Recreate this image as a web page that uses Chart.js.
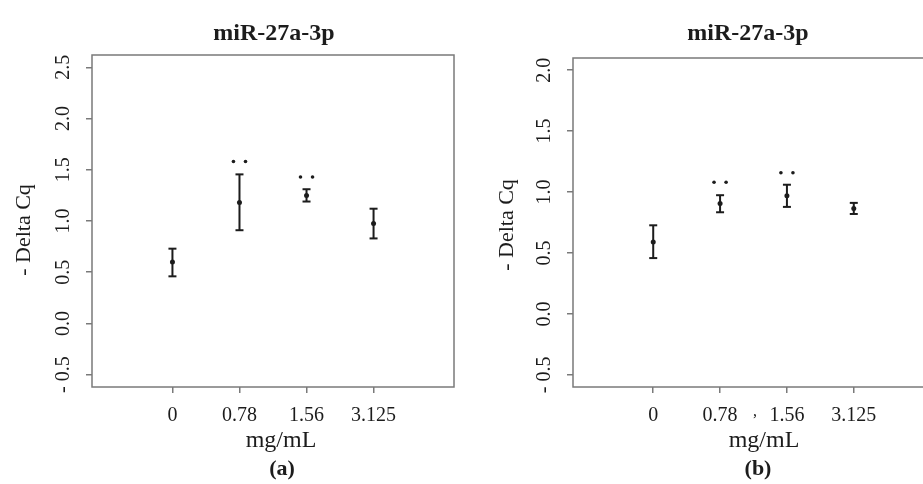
<!DOCTYPE html>
<html>
<head>
<meta charset="utf-8">
<script src="https://cdn.jsdelivr.net/npm/chart.js@4.4.1/dist/chart.umd.min.js"></script>
<style>
  html, body { margin: 0; padding: 0; background: #fff; overflow: hidden; }
  body { width: 923px; height: 484px; position: relative; }
  canvas { position: absolute; top: 0; }
  #panelA { left: 0; }
  #panelB { left: 460px; }
</style>
</head>
<body>
<canvas id="panelA" width="460" height="484"></canvas>
<canvas id="panelB" width="480" height="484"></canvas>
<script>
// datos
const doses = ['0', '0.78', '1.56', '3.125'];
const xPos = [1, 2, 3, 4];

const meanA = [0.60, 1.18, 1.25, 0.975];
const lowA = [0.46, 0.91, 1.19, 0.83];
const highA = [0.73, 1.455, 1.31, 1.12];
const sigA = [null, 1.58, 1.43, null];
const yTicksA = [-0.5, 0, 0.5, 1, 1.5, 2, 2.5];

const meanB = [0.59, 0.906, 0.969, 0.865];
const lowB = [0.458, 0.834, 0.878, 0.82];
const highB = [0.727, 0.974, 1.06, 0.911];
const sigB = [null, 1.08, 1.158, null];
const yTicksB = [-0.5, 0, 0.5, 1, 1.5, 2];

const ink = '#1c1c1c';
const frame = '#7a7a7a';
const serif = '"Liberation Serif", "Times New Roman", serif';
const sigGap = 0.09;

function yLabel(v) {
    return v < 0 ? '- ' + Math.abs(v).toFixed(1) : v.toFixed(1);
}

// texto y marco dibujados sobre las escalas
const panelText = {
    id: 'panelText',
    afterDraw(chart, args, o) {
        const ctx = chart.ctx;
        const area = chart.chartArea;
        const xs = chart.scales.x;
        const ys = chart.scales.y;
        ctx.save();
        ctx.strokeStyle = frame;
        ctx.lineWidth = 1.5;
        ctx.strokeRect(area.left, area.top, area.right - area.left, area.bottom - area.top);

        ctx.fillStyle = ink;
        ctx.textAlign = 'center';
        ctx.textBaseline = 'alphabetic';

        ctx.font = 'bold 24px ' + serif;
        ctx.fillText('miR-27a-3p', o.titleX, 40);

        ctx.font = '20px ' + serif;
        xs.ticks.forEach(function(t) {
            ctx.fillText(doses[xPos.indexOf(t.value)], xs.getPixelForValue(t.value), 421);
        });

        ctx.font = '24px ' + serif;
        ctx.fillText('mg/mL', o.unitX, 447);

        ctx.font = 'bold 22px ' + serif;
        ctx.fillText(o.panel, o.panelX, 475);

        if (o.extra) {
            ctx.font = '16px ' + serif;
            ctx.fillText(o.extra.text, o.extra.x, o.extra.y);
        }

        ctx.textBaseline = 'middle';
        ctx.font = '20px ' + serif;
        ys.ticks.forEach(function(t) {
            ctx.save();
            ctx.translate(o.tickX, ys.getPixelForValue(t.value));
            ctx.rotate(-Math.PI / 2);
            ctx.fillText(yLabel(t.value), 0, 0);
            ctx.restore();
        });

        ctx.font = '22px ' + serif;
        ctx.translate(o.axisX, o.axisY);
        ctx.rotate(-Math.PI / 2);
        ctx.fillText('- Delta Cq', 0, 0);
        ctx.restore();
    }
};

function makePanel(id, mean, low, high, sig, yTicks, yMin, yMax, pad, yWidth, text) {
    const bars = [];
    const centers = [];
    const stars = [];
    xPos.forEach(function(x, i) {
        bars.push({x: x, y: low[i]}, {x: x, y: high[i]}, {x: x, y: null});
        centers.push({x: x, y: mean[i]});
        if (sig[i] !== null) {
            stars.push({x: x - sigGap, y: sig[i]}, {x: x + sigGap, y: sig[i]});
        }
    });

    return new Chart(document.getElementById(id), {
        type: 'line',
        data: {
            datasets: [{
                data: bars,
                borderColor: ink,
                borderWidth: 2,
                pointStyle: 'line',
                pointRadius: 4,
                pointBorderWidth: 2,
                pointBorderColor: ink,
                spanGaps: false
            }, {
                data: centers,
                showLine: false,
                pointStyle: 'circle',
                pointRadius: 2.5,
                pointBackgroundColor: ink,
                pointBorderColor: ink,
                pointBorderWidth: 0
            }, {
                data: stars,
                showLine: false,
                pointStyle: 'circle',
                pointRadius: 1.8,
                pointBackgroundColor: ink,
                pointBorderColor: ink,
                pointBorderWidth: 0
            }]
        },
        options: {
            responsive: false,
            animation: false,
            layout: { padding: pad },
            plugins: {
                legend: { display: false },
                tooltip: { enabled: false },
                panelText: text
            },
            scales: {
                x: {
                    type: 'linear',
                    min: -0.2,
                    max: 5.2,
                    afterBuildTicks: function(s) { s.ticks = xPos.map(function(v) { return {value: v}; }); },
                    afterFit: function(s) { s.height = 97; },
                    border: { display: false },
                    grid: { drawOnChartArea: false, drawTicks: true, tickLength: 6, color: frame, lineWidth: 1.5 },
                    ticks: { display: false }
                },
                y: {
                    type: 'linear',
                    min: yMin,
                    max: yMax,
                    afterBuildTicks: function(s) { s.ticks = yTicks.map(function(v) { return {value: v}; }); },
                    afterFit: function(s) { s.width = yWidth; },
                    border: { display: false },
                    grid: { drawOnChartArea: false, drawTicks: true, tickLength: 6, color: frame, lineWidth: 1.5 },
                    ticks: { display: false }
                }
            }
        },
        plugins: [panelText]
    });
}

makePanel('panelA', meanA, lowA, highA, sigA, yTicksA, -0.62, 2.62,
    {top: 55, right: 5, bottom: 0, left: 0}, 92,
    {titleX: 274, unitX: 281, panel: '(a)', panelX: 282, tickX: 64, axisX: 24, axisY: 230});

makePanel('panelB', meanB, lowB, highB, sigB, yTicksB, -0.6, 2.1,
    {top: 58, right: 6, bottom: 0, left: 0}, 113,
    {titleX: 288, unitX: 304, panel: '(b)', panelX: 298, tickX: 85, axisX: 47, axisY: 225,
     extra: {text: ',', x: 295, y: 416}});
</script>
</body>
</html>
